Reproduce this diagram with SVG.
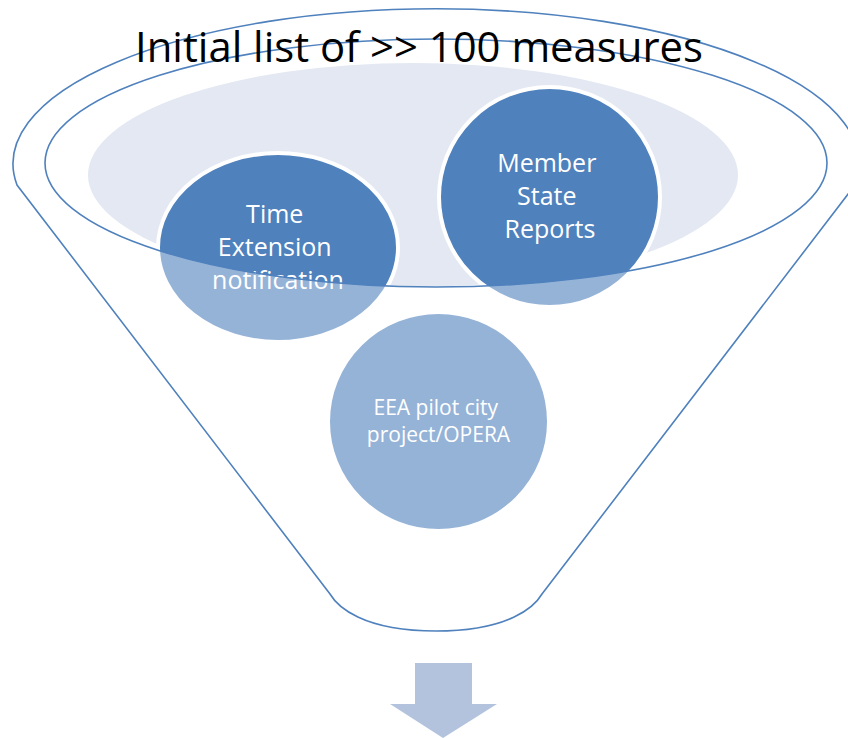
<svg xmlns="http://www.w3.org/2000/svg" width="848" height="738" viewBox="0 0 848 738">
  <style>
    .node { fill: #4F81BD; stroke: #FFFFFF; stroke-width: 4; }
    .lbl { fill: #FFFFFF; font-family: "Open Sans", "Liberation Sans", sans-serif; text-anchor: middle; }
    .outline { fill: none; stroke: #4F81BD; stroke-width: 1.6; }
    .title { fill: #000000; font-family: "Open Sans", "Liberation Sans", sans-serif; font-size: 42px; text-anchor: middle; }
  </style>
  <rect width="848" height="738" fill="#FFFFFF"/>

  <g id="funnel-back">
    <ellipse cx="413" cy="175" rx="325" ry="112" fill="#E3E8F2"/>
  </g>

  <g id="node-time-extension">
    <ellipse class="node" cx="278" cy="247.5" rx="120" ry="94.5"/>
    <text class="lbl" font-size="25">
      <tspan x="278" y="223">Time</tspan>
      <tspan x="278" y="256">Extension</tspan>
      <tspan x="278" y="289">notification</tspan>
    </text>
  </g>

  <g id="node-member-state">
    <ellipse class="node" cx="549.5" cy="197" rx="110.5" ry="110"/>
    <text class="lbl" font-size="25">
      <tspan x="550" y="172">Member</tspan>
      <tspan x="550" y="205">State</tspan>
      <tspan x="550" y="238">Reports</tspan>
    </text>
  </g>

  <g id="node-eea">
    <ellipse class="node" cx="438.5" cy="421.5" rx="110.5" ry="109.5"/>
    <text class="lbl" font-size="21">
      <tspan x="438.5" y="415">EEA pilot city</tspan>
      <tspan x="438.5" y="442">project/OPERA</tspan>
    </text>
  </g>

  <g id="funnel">
    <path fill="#FFFFFF" fill-opacity="0.4" fill-rule="evenodd"
      d="M 17 185 A 423 155 0 1 1 855 185 L 542 594 C 535 606 510 631 436 631 C 362 631 337 606 330 594 Z
         M 45 163 A 391 124 0 1 0 827 163 A 391 124 0 1 0 45 163 Z"/>
    <path class="outline" d="M 17 185 A 423 155 0 1 1 855 185 L 542 594 C 535 606 510 631 436 631 C 362 631 337 606 330 594 Z"/>
    <ellipse class="outline" cx="436" cy="163" rx="391" ry="124"/>
  </g>

  <g id="title">
    <text class="title" x="419" y="62" textLength="568" lengthAdjust="spacingAndGlyphs">Initial list of &gt;&gt; 100 measures</text>
  </g>

  <g id="connectors">
    <polygon points="415,663 472,663 472,704 497,704 443,738 390,704 415,704" fill="#B3C3DE"/>
  </g>
</svg>
